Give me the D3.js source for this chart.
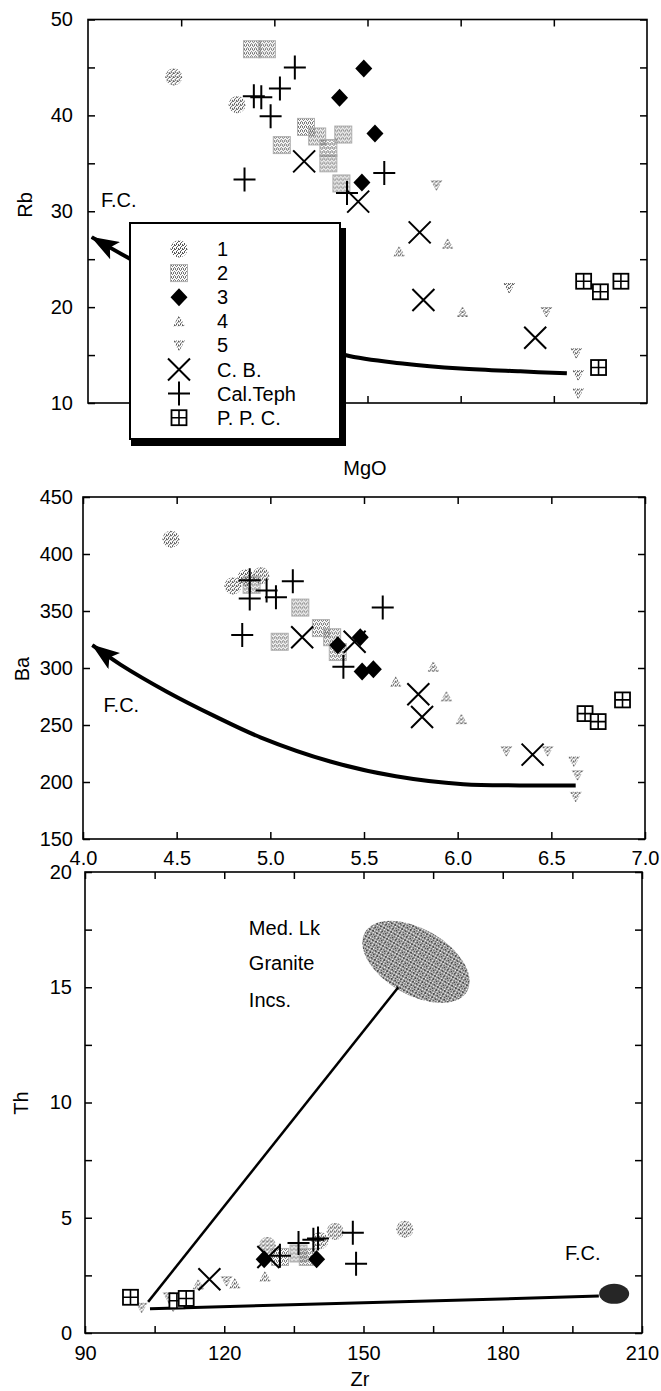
<!DOCTYPE html>
<html>
<head>
<meta charset="utf-8">
<script src="https://cdn.jsdelivr.net/npm/d3@7"></script>
<style>
  body { margin: 0; background: #fff; }
  svg { display: block; font-family: "Liberation Sans", Arial, Helvetica, sans-serif; }
</style>
</head>
<body>
<svg id="chart" width="661" height="1391"></svg>
<script>
// ---------- tick values ----------
const mgoTicks = [4.0, 4.5, 5.0, 5.5, 6.0, 6.5, 7.0];
const rbTicks = [10, 15, 20, 25, 30, 35, 40, 45, 50];
const rbLabels = [10, 20, 30, 40, 50];
const baTicks = [150, 200, 250, 300, 350, 400, 450];
const zrTicks = [90, 105, 120, 135, 150, 165, 180, 195, 210];
const zrLabels = [90, 120, 150, 180, 210];
const thTicks = [0, 2.5, 5, 7.5, 10, 12.5, 15, 17.5, 20];
const thLabels = [0, 5, 10, 15, 20];

// ---------- legend ----------
const groupKeys = ["g1", "g2", "g3", "g4", "g5", "cb", "teph", "ppc"];
const legendLabels = ["1", "2", "3", "4", "5", "C. B.", "Cal.Teph", "P. P. C."];

// ---------- MgO vs Rb : [MgO, Rb, group] ----------
const rbPoints = [
  [4.46, 44.0, "g1"], [4.80, 41.1, "g1"],
  [4.88, 46.9, "g2"], [4.96, 46.9, "g2"], [5.04, 36.9, "g2"], [5.17, 38.8, "g2"],
  [5.23, 37.8, "g2"], [5.29, 36.6, "g2"], [5.29, 35.0, "g2"], [5.37, 38.0, "g2"], [5.36, 32.9, "g2"],
  [5.48, 44.9, "g3"], [5.35, 41.85, "g3"], [5.54, 38.1, "g3"], [5.47, 33.0, "g3"],
  [5.67, 25.8, "g4"], [5.93, 26.6, "g4"], [6.01, 19.5, "g4"],
  [5.87, 32.7, "g5"], [6.26, 22.0, "g5"], [6.46, 19.5, "g5"], [6.62, 15.2, "g5"], [6.63, 12.9, "g5"], [6.63, 11.0, "g5"],
  [5.16, 35.2, "cb"], [5.45, 31.0, "cb"], [5.78, 27.8, "cb"], [5.80, 20.75, "cb"], [6.40, 16.8, "cb"],
  [5.11, 45.0, "teph"], [5.03, 42.8, "teph"], [4.89, 42.0, "teph"], [4.93, 41.9, "teph"],
  [4.98, 39.9, "teph"], [4.84, 33.3, "teph"], [5.59, 34.0, "teph"], [5.39, 31.9, "teph"],
  [6.66, 22.7, "ppc"], [6.75, 21.6, "ppc"], [6.86, 22.7, "ppc"], [6.74, 13.7, "ppc"]
];
// fractional crystallisation path, Rb
const rbFC = [[4.02, 27.3], [4.22, 25.1], [4.5, 22.2], [4.8, 19.5], [5.1, 17.0], [5.38, 15.0],
  [5.7, 14.1], [6.0, 13.6], [6.32, 13.3], [6.57, 13.1]];
const rbFCText = [4.07, 30.4];

// ---------- MgO vs Ba ----------
const baPoints = [
  [4.47, 413, "g1"], [4.80, 372, "g1"], [4.95, 381, "g1"], [4.87, 379, "g1"],
  [4.90, 373, "g2"], [5.16, 353, "g2"], [5.05, 323, "g2"], [5.27, 335, "g2"], [5.33, 327, "g2"], [5.36, 314, "g2"],
  [5.36, 320, "g3"], [5.48, 327, "g3"], [5.49, 297, "g3"], [5.55, 299, "g3"],
  [5.67, 288, "g4"], [5.87, 301, "g4"], [5.94, 275, "g4"], [6.02, 255, "g4"],
  [6.26, 227, "g5"], [6.48, 227, "g5"], [6.62, 218, "g5"], [6.64, 206, "g5"], [6.63, 187, "g5"],
  [5.17, 327, "cb"], [5.45, 323, "cb"], [5.79, 277, "cb"], [5.81, 257, "cb"], [6.40, 224, "cb"],
  [4.89, 377, "teph"], [4.89, 361, "teph"], [4.98, 368, "teph"], [5.03, 362, "teph"],
  [5.12, 376, "teph"], [4.85, 329, "teph"], [5.60, 353, "teph"], [5.39, 301, "teph"],
  [6.68, 260, "ppc"], [6.75, 253, "ppc"], [6.88, 272, "ppc"]
];
const baFC = [[4.05, 320], [4.2, 303], [4.45, 279], [4.7, 258], [4.95, 239], [5.32, 218],
  [5.67, 205], [6.03, 198], [6.33, 197], [6.63, 197]];
const baFCText = [4.11, 261.6];

// ---------- Zr vs Th ----------
const thPoints = [
  [129.3, 3.8, "g1"], [140.6, 4.0, "g1"], [143.9, 4.4, "g1"], [158.9, 4.5, "g1"],
  [132.0, 3.3, "g2"], [136.0, 3.45, "g2"], [138.0, 3.3, "g2"],
  [128.6, 3.2, "g3"], [139.9, 3.2, "g3"],
  [114.4, 2.1, "g4"], [122.3, 2.15, "g4"], [128.8, 2.45, "g4"],
  [102.2, 1.1, "g5"], [108.0, 1.55, "g5"], [109.0, 1.15, "g5"], [120.5, 2.25, "g5"],
  [116.8, 2.33, "cb"], [129.5, 3.3, "cb"],
  [132.0, 3.35, "teph"], [136.0, 3.9, "teph"], [139.2, 4.05, "teph"], [140.2, 4.1, "teph"],
  [147.7, 4.35, "teph"], [148.4, 3.0, "teph"],
  [99.8, 1.55, "ppc"], [109.8, 1.4, "ppc"], [111.8, 1.5, "ppc"]
];
const thMixLine = [[103.6, 1.35], [157.5, 15.0]];
const thFCLine = [[104.0, 1.05], [200.7, 1.6]];
const graniteField = [161.3, 16.1];
const fcEnd = [204.0, 1.7];
const graniteText = ["Med. Lk", "Granite", "Incs."];
const graniteTextPos = [[125.3, 17.27], [125.3, 15.75], [125.3, 14.14]];
const thFCText = [193.4, 3.15];

// ---------- drawing ----------
const svg = d3.select("#chart");
const defs = svg.append("defs");
const FONT = 20;

function stipple(id, color, size, cells) {
  const p = defs.append("pattern").attr("id", id)
    .attr("patternUnits", "userSpaceOnUse").attr("width", size).attr("height", size);
  cells.forEach(([cx, cy]) => p.append("rect").attr("x", cx).attr("y", cy)
    .attr("width", 1).attr("height", 1).attr("fill", color));
}
stipple("stipA", "#5a5a5a", 4, [[0, 0], [2, 1], [1, 2], [3, 3], [3, 0], [1, 3]]);
stipple("stipB", "#707070", 4, [[0, 0], [2, 0], [1, 1], [3, 2], [0, 3], [2, 3]]);
stipple("stipC", "#4a4a4a", 4, [[0, 0], [2, 0], [1, 1], [3, 1], [0, 2], [2, 2], [1, 3], [3, 3], [3, 0]]);

defs.append("marker").attr("id", "fcArrow")
  .attr("markerUnits", "userSpaceOnUse")
  .attr("viewBox", "0 0 28 20").attr("markerWidth", 28).attr("markerHeight", 20)
  .attr("refX", 27).attr("refY", 10).attr("orient", "auto-start-reverse")
  .append("path").attr("d", "M0,0 L28,10 L0,20 L6,10 Z").attr("fill", "#000");

function symbol(layer, key, cx, cy) {
  const g = layer.append("g").attr("transform", `translate(${cx},${cy})`);
  switch (key) {
    case "g1":
      g.append("circle").attr("r", 8.5).attr("fill", "url(#stipA)");
      break;
    case "g2":
      g.append("rect").attr("x", -8.5).attr("y", -8.5).attr("width", 17).attr("height", 17)
        .attr("fill", "url(#stipB)").attr("stroke", "#b0b0b0").attr("stroke-width", 1);
      break;
    case "g3":
      g.append("path").attr("d", "M0,-9 L8.5,0 L0,9 L-8.5,0 Z").attr("fill", "#000");
      break;
    case "g4":
      g.append("path").attr("d", "M0,-6 L6,5 L-6,5 Z").attr("fill", "url(#stipA)");
      break;
    case "g5":
      g.append("path").attr("d", "M-6,-5 L6,-5 L0,6 Z").attr("fill", "url(#stipA)");
      break;
    case "cb":
      g.append("path").attr("d", "M-11,-11 L11,11 M-11,11 L11,-11")
        .attr("stroke", "#000").attr("stroke-width", 2).attr("fill", "none");
      break;
    case "teph":
      g.append("path").attr("d", "M-11,0 L11,0 M0,-12 L0,12")
        .attr("stroke", "#000").attr("stroke-width", 2).attr("fill", "none");
      break;
    case "ppc":
      g.append("rect").attr("x", -7.5).attr("y", -7.5).attr("width", 15).attr("height", 15)
        .attr("fill", "#fff").attr("stroke", "#000").attr("stroke-width", 1.8);
      g.append("path").attr("d", "M-7.5,0 L7.5,0 M0,-7.5 L0,7.5")
        .attr("stroke", "#000").attr("stroke-width", 1.6);
      break;
  }
}

const drawOrder = ["g1", "g2", "g4", "g5", "ppc", "g3", "cb", "teph"];
function drawPoints(pts, x, y) {
  const layer = svg.append("g");
  drawOrder.forEach(k => pts.filter(d => d[2] === k).forEach(d => symbol(layer, k, x(d[0]), y(d[1]))));
}

function styleAxis(g) {
  g.select(".domain").remove();
  g.attr("font-family", null).attr("font-size", FONT);
  g.selectAll(".tick line").attr("stroke-width", 1.5);
  g.selectAll("text").attr("fill", "#000");
}

function axes(p, x, y, o) {
  const fy = d => (o.yLabels.includes(d) ? (o.yFmt ? o.yFmt(d) : String(d)) : "");
  const fx = d => (o.xLabels.includes(d) ? (o.xFmt ? o.xFmt(d) : String(d)) : "");
  svg.append("g").attr("transform", `translate(${p.left},0)`)
    .call(d3.axisLeft(y).tickValues(o.yTicks).tickSize(-7).tickPadding(o.yPad).tickFormat(fy)).call(styleAxis);
  svg.append("g").attr("transform", `translate(${p.right},0)`)
    .call(d3.axisRight(y).tickValues(o.yTicks).tickSize(-7).tickFormat("")).call(styleAxis);
  svg.append("g").attr("transform", `translate(0,${p.top})`)
    .call(d3.axisTop(x).tickValues(o.xTicks).tickSize(-7).tickFormat("")).call(styleAxis);
  svg.append("g").attr("transform", `translate(0,${p.bottom})`)
    .call(d3.axisBottom(x).tickValues(o.xTicks).tickSize(-7).tickPadding(o.xPad).tickFormat(fx)).call(styleAxis);
  svg.append("rect").attr("x", p.left).attr("y", p.top)
    .attr("width", p.right - p.left).attr("height", p.bottom - p.top)
    .attr("fill", "none").attr("stroke", "#000").attr("stroke-width", 1.6);
}

function yTitle(text, cx, cy) {
  svg.append("text").attr("transform", `translate(${cx},${cy}) rotate(-90)`)
    .attr("text-anchor", "middle").attr("dy", "0.35em").attr("font-size", FONT).text(text);
}
function label(text, x, y, anchor) {
  svg.append("text").attr("x", x).attr("y", y).attr("text-anchor", anchor || "start")
    .attr("font-size", FONT).text(text);
}

const fcLine = d3.line().x(d => d[0]).y(d => d[1]).curve(d3.curveCatmullRom.alpha(0.5));

// ===== panel 1 : MgO vs Rb =====
const p1 = { left: 88, right: 647, top: 19.5, bottom: 403 };
const x1 = d3.scaleLinear().domain([4, 7]).range([p1.left, p1.right]);
const y1 = d3.scaleLinear().domain([10, 50]).range([p1.bottom, p1.top]);
axes(p1, x1, y1, { xTicks: [4.5, 5.0, 5.5, 6.0, 6.5], xLabels: [], xPad: 10,
  yTicks: rbTicks, yLabels: rbLabels, yPad: 15 });
yTitle("Rb", 25, 205);
label("MgO", 365, 475, "middle");

svg.append("path").datum(rbFC.map(d => [x1(d[0]), y1(d[1])]))
  .attr("d", fcLine).attr("fill", "none").attr("stroke", "#000").attr("stroke-width", 4)
  .attr("marker-start", "url(#fcArrow)");
label("F.C.", x1(rbFCText[0]), y1(rbFCText[1]));
drawPoints(rbPoints, x1, y1);

// legend box with drop shadow
const lg = { x: 130, y: 223, w: 210, h: 216, sx: 131, sy: 228 };
svg.append("rect").attr("x", lg.sx).attr("y", lg.sy).attr("width", lg.w + 5).attr("height", lg.h + 2)
  .attr("fill", "#000");
svg.append("rect").attr("x", lg.x).attr("y", lg.y).attr("width", lg.w).attr("height", lg.h)
  .attr("fill", "#fff").attr("stroke", "#000").attr("stroke-width", 2);
const legendLayer = svg.append("g");
groupKeys.forEach((k, i) => {
  const cy = 249 + i * 24.1;
  symbol(legendLayer, k, 179, cy);
  legendLayer.append("text").attr("x", 217).attr("y", cy).attr("dy", "0.35em")
    .attr("font-size", FONT).text(legendLabels[i]);
});

// ===== panel 2 : MgO vs Ba =====
const p2 = { left: 83, right: 645, top: 497, bottom: 839 };
const x2 = d3.scaleLinear().domain([4, 7]).range([p2.left, p2.right]);
const y2 = d3.scaleLinear().domain([150, 450]).range([p2.bottom, p2.top]);
axes(p2, x2, y2, { xTicks: mgoTicks, xLabels: mgoTicks, xFmt: d3.format(".1f"), xPad: 12,
  yTicks: baTicks, yLabels: baTicks, yPad: 10 });
yTitle("Ba", 22, 669);
svg.append("path").datum(baFC.map(d => [x2(d[0]), y2(d[1])]))
  .attr("d", fcLine).attr("fill", "none").attr("stroke", "#000").attr("stroke-width", 4)
  .attr("marker-start", "url(#fcArrow)");
label("F.C.", x2(baFCText[0]), y2(baFCText[1]));
drawPoints(baPoints, x2, y2);

// ===== panel 3 : Zr vs Th =====
const p3 = { left: 85, right: 642, top: 872, bottom: 1333 };
const x3 = d3.scaleLinear().domain([90, 210]).range([p3.left, p3.right]);
const y3 = d3.scaleLinear().domain([0, 20]).range([p3.bottom, p3.top]);
axes(p3, x3, y3, { xTicks: zrTicks, xLabels: zrLabels, xPad: 13,
  yTicks: thTicks, yLabels: thLabels, yPad: 13 });
yTitle("Th", 21, 1103);
label("Zr", 360, 1386, "middle");

// granite inclusion field
svg.append("ellipse").attr("cx", x3(graniteField[0])).attr("cy", y3(graniteField[1]))
  .attr("rx", 59).attr("ry", 33)
  .attr("transform", `rotate(30,${x3(graniteField[0])},${y3(graniteField[1])})`)
  .attr("fill", "url(#stipC)");
graniteText.forEach((t, i) => label(t, x3(graniteTextPos[i][0]), y3(graniteTextPos[i][1])));

const straight = d3.line().x(d => x3(d[0])).y(d => y3(d[1]));
svg.append("path").datum(thMixLine).attr("d", straight)
  .attr("stroke", "#000").attr("stroke-width", 2.5).attr("fill", "none");
svg.append("path").datum(thFCLine).attr("d", straight)
  .attr("stroke", "#000").attr("stroke-width", 3).attr("fill", "none");
svg.append("ellipse").attr("cx", x3(fcEnd[0])).attr("cy", y3(fcEnd[1]))
  .attr("rx", 15).attr("ry", 10).attr("fill", "#262626");
label("F.C.", x3(thFCText[0]), y3(thFCText[1]));
drawPoints(thPoints, x3, y3);
</script>
</body>
</html>
